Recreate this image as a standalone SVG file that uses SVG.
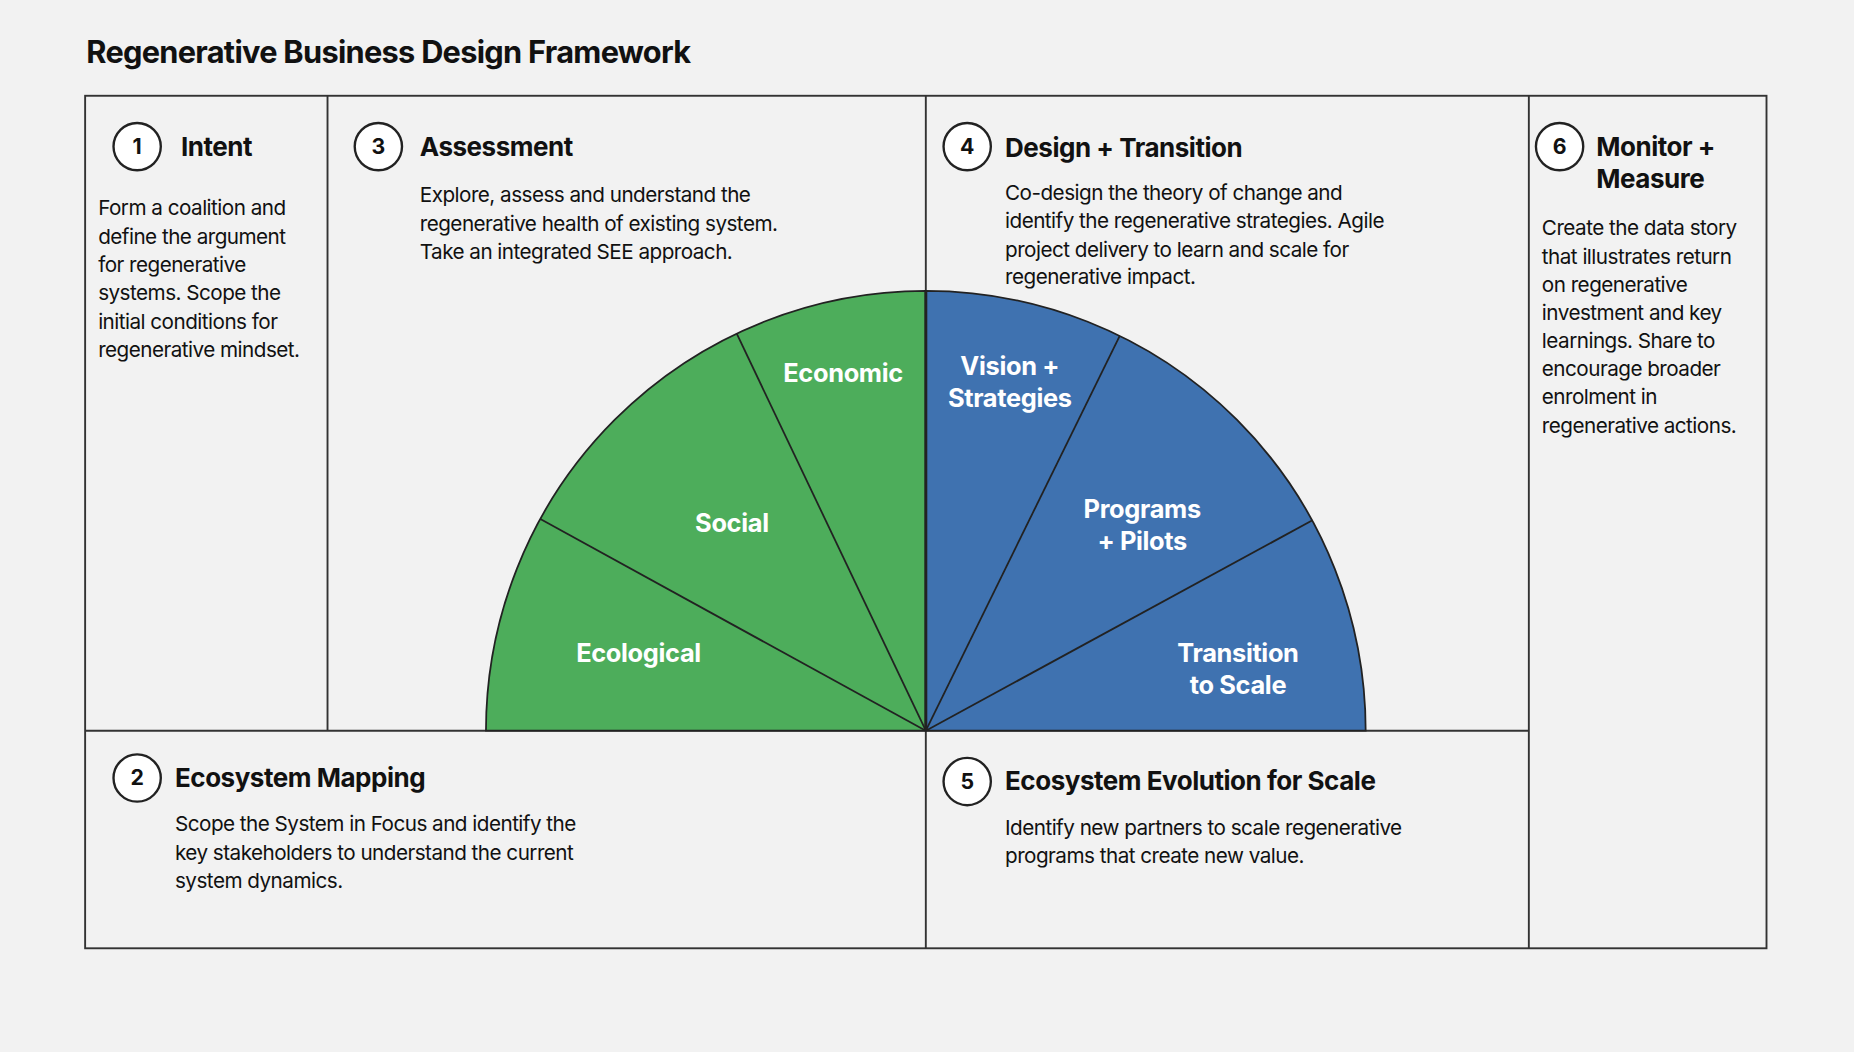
<svg xmlns="http://www.w3.org/2000/svg" width="1854" height="1052" viewBox="0 0 1854 1052">
<style>
.t{font-family:Inter,"Liberation Sans",sans-serif;fill:#111}
.h{font-size:22px;font-weight:700;letter-spacing:-0.4px}
.b{font-size:17.5px;letter-spacing:-0.45px}
.n{font-size:18px;font-weight:700;text-anchor:middle}
.w{font-family:Inter,"Liberation Sans",sans-serif;fill:#fff;font-size:21.5px;font-weight:700;text-anchor:middle;letter-spacing:-0.3px}
.c{fill:#fff;stroke:#222;stroke-width:2}
.ln{stroke:#333;stroke-width:1.6;fill:none}
</style>
<rect width="1854" height="1052" fill="#f2f2f2"/>
<g transform="scale(1.18240)">
<text class="t" x="73" y="53" style="font-size:26px;font-weight:700;letter-spacing:-0.6px">Regenerative Business Design Framework</text>
<g id="connectors">
<rect class="ln" x="72" y="81" width="1422" height="721"/>
<line class="ln" x1="277" y1="81" x2="277" y2="618"/>
<line class="ln" x1="783" y1="81" x2="783" y2="802"/>
<line class="ln" x1="1293" y1="81" x2="1293" y2="802"/>
<line class="ln" x1="72" y1="618" x2="1293" y2="618"/>
</g>
<g id="wheel" stroke="#222" stroke-width="1.5">
<path d="M783 618 L411 618 A372 372 0 0 1 783 246 Z" fill="#4dad5b"/>
<path d="M783 618 L783 246 A372 372 0 0 1 1155 618 Z" fill="#3f72b0"/>
<line x1="783" y1="618" x2="457" y2="439"/>
<line x1="783" y1="618" x2="623" y2="282"/>
<line x1="783" y1="618" x2="947" y2="284"/>
<line x1="783" y1="618" x2="1110" y2="440"/>
<line x1="783" y1="618" x2="783" y2="246" stroke-width="2.5"/>
<text class="w" x="713" y="323" stroke="none">Economic</text>
<text class="w" x="619" y="450" stroke="none">Social</text>
<text class="w" x="540" y="560" stroke="none">Ecological</text>
<text class="w" x="854" y="317" stroke="none">Vision +</text>
<text class="w" x="854" y="344" stroke="none">Strategies</text>
<text class="w" x="966" y="438" stroke="none">Programs</text>
<text class="w" x="966" y="465" stroke="none">+ Pilots</text>
<text class="w" x="1047" y="560" stroke="none">Transition</text>
<text class="w" x="1047" y="587" stroke="none">to Scale</text>
</g>
<g id="n1"><circle class="c" cx="116" cy="124" r="20"/><text class="t n" x="116" y="130">1</text>
<text class="t h" x="153" y="132">Intent</text>
<text class="t b" x="83" y="182">Form a coalition and</text><text class="t b" x="83" y="206">define the argument</text><text class="t b" x="83" y="230">for regenerative</text><text class="t b" x="83" y="254">systems. Scope the</text><text class="t b" x="83" y="278">initial conditions for</text><text class="t b" x="83" y="302">regenerative mindset.</text></g>
<g id="n3"><circle class="c" cx="320" cy="124" r="20"/><text class="t n" x="320" y="130">3</text>
<text class="t h" x="355" y="132">Assessment</text>
<text class="t b" x="355" y="171">Explore, assess and understand the</text><text class="t b" x="355" y="195">regenerative health of existing system.</text><text class="t b" x="355" y="219">Take an integrated SEE approach.</text></g>
<g id="n4"><circle class="c" cx="818" cy="124" r="20"/><text class="t n" x="818" y="130">4</text>
<text class="t h" x="850" y="133">Design + Transition</text>
<text class="t b" x="850" y="169">Co-design the theory of change and</text><text class="t b" x="850" y="193">identify the regenerative strategies. Agile</text><text class="t b" x="850" y="217">project delivery to learn and scale for</text><text class="t b" x="850" y="240">regenerative impact.</text></g>
<g id="n6"><circle class="c" cx="1319" cy="124" r="20"/><text class="t n" x="1319" y="130">6</text>
<text class="t h" x="1350" y="132">Monitor +</text><text class="t h" x="1350" y="159">Measure</text>
<text class="t b" x="1304" y="199">Create the data story</text><text class="t b" x="1304" y="223">that illustrates return</text><text class="t b" x="1304" y="247">on regenerative</text><text class="t b" x="1304" y="271">investment and key</text><text class="t b" x="1304" y="294">learnings. Share to</text><text class="t b" x="1304" y="318">encourage broader</text><text class="t b" x="1304" y="342">enrolment in</text><text class="t b" x="1304" y="366">regenerative actions.</text></g>
<g id="n2"><circle class="c" cx="116" cy="658" r="20"/><text class="t n" x="116" y="664">2</text>
<text class="t h" x="148" y="666">Ecosystem Mapping</text>
<text class="t b" x="148" y="703">Scope the System in Focus and identify the</text><text class="t b" x="148" y="727">key stakeholders to understand the current</text><text class="t b" x="148" y="751">system dynamics.</text></g>
<g id="n5"><circle class="c" cx="818" cy="661" r="20"/><text class="t n" x="818" y="667">5</text>
<text class="t h" x="850" y="668">Ecosystem Evolution for Scale</text>
<text class="t b" x="850" y="706">Identify new partners to scale regenerative</text><text class="t b" x="850" y="730">programs that create new value.</text></g>
</g>
</svg>
